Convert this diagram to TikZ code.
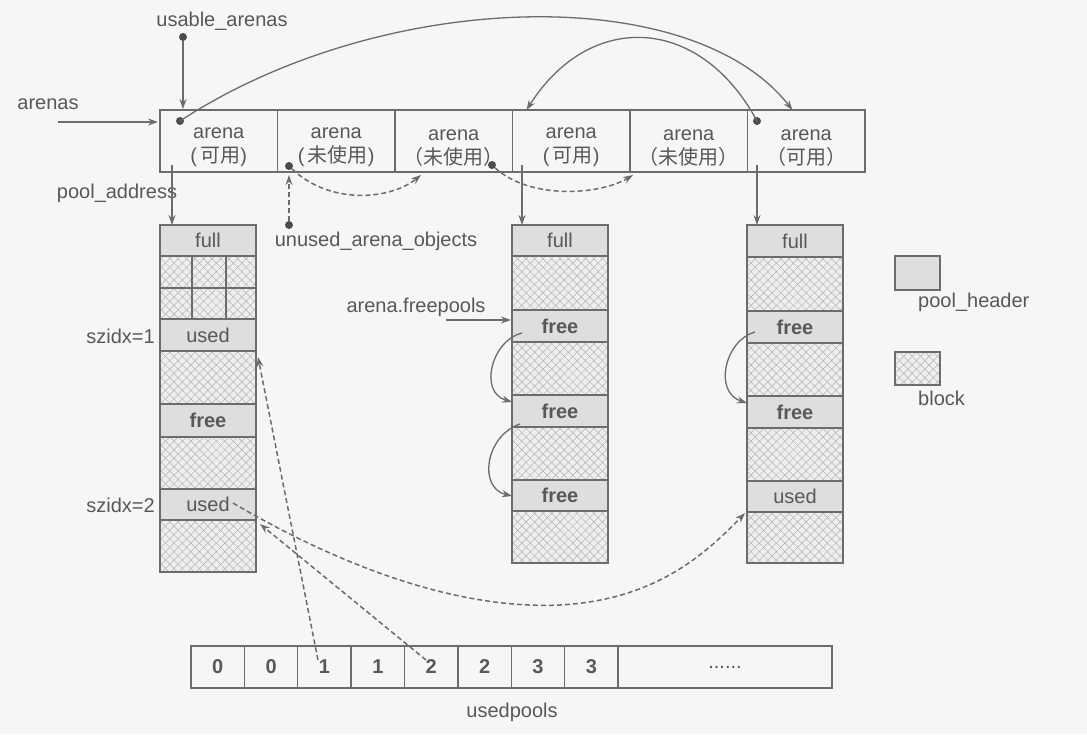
\documentclass[tikz,border=0pt]{standalone}
\usepackage{fontspec}
\setmainfont{Liberation Sans}
\newfontfamily\cjk{Noto Sans CJK SC}
\usetikzlibrary{arrows.meta,patterns.meta,calc}
\definecolor{bg}{RGB}{246,246,244}
\definecolor{lc}{RGB}{108,108,108}
\definecolor{tc}{RGB}{88,88,88}
\definecolor{hdrfill}{RGB}{222,222,222}
\definecolor{hatchbg}{RGB}{238,238,238}
\definecolor{hatchln}{RGB}{178,178,178}
\tikzset{
  cell/.style={draw=lc, line width=1.4pt, anchor=north west, inner sep=0pt, outer sep=0pt,
    text=tc, font=\fontsize{20}{22}\selectfont, minimum width=96pt},
  hdr/.style={cell, fill=hdrfill},
  hatch/.style={cell, preaction={fill=hatchbg},
    preaction={pattern={Lines[angle=45,distance=6pt,line width=0.5pt]}, pattern color=hatchln},
    preaction={pattern={Lines[angle=-45,distance=6pt,line width=0.5pt]}, pattern color=hatchln}},
  arenacell/.style={cell, minimum width=117.5pt, minimum height=62pt, align=center,
    font=\fontsize{20}{24}\selectfont},
  ucell/.style={cell, minimum width=53.375pt, minimum height=42pt, font=\bfseries\fontsize{20}{22}\selectfont},
  lbl/.style={text=tc, font=\fontsize{20}{22}\selectfont, inner sep=0pt},
  arr/.style={draw=lc, line width=1.3pt, -{Stealth[length=10pt,width=7pt]}},
  darr/.style={arr, line width=1.5pt, dash pattern=on 5pt off 3pt},
  dotn/.style={circle, fill=lc!70!black, inner sep=0pt, minimum size=8pt},
}
\newcommand{\up}{\rule{0pt}{24pt}}
\begin{document}
\begin{tikzpicture}[x=1pt,y=-1pt]
\fill[bg] (0,0) rectangle (1087,734);
\useasboundingbox (0,0) rectangle (1087,734);

% arena row
\node[arenacell] (a1) at (160,110) {\up arena\\(\,{\cjk 可用})};
\node[arenacell] (a2) at (277.5,110) {\up arena\\(\,{\cjk 未使用})};
\node[arenacell] (a3) at (395,110) {\up arena\\{\cjk （未使用）}};
\node[arenacell] (a4) at (512.5,110) {\up arena\\(\,{\cjk 可用})};
\node[arenacell] (a5) at (630,110) {\up arena\\{\cjk （未使用）}};
\node[arenacell] (a6) at (747.5,110) {\up arena\\{\cjk （可用）}};

% left column
\node[hdr, minimum height=31pt] (L1) at (160,225) {full};
\node[hatch, minimum width=32pt, minimum height=32pt] (L2a) at (160,256) {};
\node[hatch, minimum width=34pt, minimum height=32pt] (L2b) at (192,256) {};
\node[hatch, minimum width=30pt, minimum height=32pt] (L2c) at (226,256) {};
\node[hatch, minimum width=32pt, minimum height=31pt] (L3a) at (160,288) {};
\node[hatch, minimum width=34pt, minimum height=31pt] (L3b) at (192,288) {};
\node[hatch, minimum width=30pt, minimum height=31pt] (L3c) at (226,288) {};
\node[hdr, minimum height=32pt] (L4) at (160,319) {used};
\node[hatch, minimum height=53pt] (L5) at (160,351) {};
\node[hdr, minimum height=33pt] (L6) at (160,404) {\bfseries free};
\node[hatch, minimum height=52pt] (L7) at (160,437) {};
\node[hdr, minimum height=31pt] (L8) at (160,489) {used};
\node[hatch, minimum height=52pt] (L9) at (160,520) {};

% middle column
\node[hdr, minimum height=31pt] (M1) at (512,225) {full};
\node[hatch, minimum height=54pt] (M2) at (512,256) {};
\node[hdr, minimum height=32pt] (M3) at (512,310) {\bfseries free};
\node[hatch, minimum height=53pt] (M4) at (512,342) {};
\node[hdr, minimum height=32pt] (M5) at (512,395) {\bfseries free};
\node[hatch, minimum height=53pt] (M6) at (512,427) {};
\node[hdr, minimum height=31pt] (M7) at (512,480) {\bfseries free};
\node[hatch, minimum height=52pt] (M8) at (512,511) {};

% right column
\node[hdr, minimum height=32pt] (R1) at (747,225) {full};
\node[hatch, minimum height=54pt] (R2) at (747,257) {};
\node[hdr, minimum height=32pt] (R3) at (747,311) {\bfseries free};
\node[hatch, minimum height=53pt] (R4) at (747,343) {};
\node[hdr, minimum height=32pt] (R5) at (747,396) {\bfseries free};
\node[hatch, minimum height=53pt] (R6) at (747,428) {};
\node[hdr, minimum height=31pt] (R7) at (747,481) {used};
\node[hatch, minimum height=51pt] (R8) at (747,512) {};

% legend
\node[hdr, minimum width=45pt, minimum height=34pt, line width=1.1pt] (lgh) at (895,256) {};
\node[lbl, anchor=west] (lghl) at (918,302) {pool\_header};
\node[hatch, minimum width=45pt, minimum height=33pt, line width=1.1pt] (lgb) at (895,352) {};
\node[lbl, anchor=west] (lgbl) at (918,398) {block};

% usedpools array
\node[ucell] (u1) at (191,646) {0};
\node[ucell] (u2) at (244.375,646) {0};
\node[ucell] (u3) at (297.75,646) {1};
\node[ucell] (u4) at (351.125,646) {1};
\node[ucell] (u5) at (404.5,646) {2};
\node[ucell] (u6) at (457.875,646) {2};
\node[ucell] (u7) at (511.25,646) {3};
\node[ucell] (u8) at (564.625,646) {3};
\node[cell, minimum width=214pt, minimum height=42pt] (u9) at (618,646) {......};
\node[lbl] (usedpools) at (512,712) {usedpools};

% labels
\node[lbl] (usable) at (222,21) {usable\_arenas};
\node[lbl] (arenas) at (48,104) {arenas};
\node[lbl] (pooladdr) at (117,193) {pool\_address};
\node[lbl] (unused) at (376,241) {unused\_arena\_objects};
\node[lbl, anchor=east] (sz1) at (155,336) {szidx=1};
\node[lbl, anchor=east] (sz2) at (155,505) {szidx=2};
\node[lbl] (freepools) at (416,307) {arena.freepools};

% dots
\node[dotn] (du) at (183,37) {};
\node[dotn] (d1) at (180,121) {};
\node[dotn] (d6) at (757,121) {};
\node[dotn] (d2) at (289,166) {};
\node[dotn] (d3) at (492,165) {};
\node[dotn] (dun) at (289,225) {};

% coordinates
\coordinate (arenasS) at (58,122);
\coordinate (p1s) at (172,165);
\coordinate (p4s) at (522,165);
\coordinate (p6s) at (757,165);
\coordinate (fpS) at (446,320);
\coordinate (u3s) at (318,660);
\coordinate (u5s) at (426,660);
\coordinate (usedS) at (233,503);

% solid arrows
\draw[arr] (du) -- ($(a1.north west)+(23,-1)$);
\draw[arr] (arenasS) -- ($(a1.north west)+(-2,12)$);
\draw[arr] (d1.center) .. controls (380,-10) and (690,-20) .. ($(a6.north west)+(45,0)$);
\draw[arr] (d6.center) .. controls (700,15) and (590,10) .. ($(a4.north west)+(14,0)$);
\draw[arr] (p1s) -- (p1s |- L1.north);
\draw[arr] (p4s) -- (p4s |- M1.north);
\draw[arr] (p6s) -- (p6s |- R1.north);
\draw[arr] (fpS) -- ($(M3.north west)+(-1,10)$);
\draw[arr] ($(M3.south west)+(10,-9)$) .. controls (492,340) and (478,392) .. ($(M5.north west)+(0,7)$);
\draw[arr] ($(M5.south west)+(8,-3)$) .. controls (485,436) and (478,488) .. ($(M7.north west)+(0,16)$);
\draw[arr] ($(R3.south west)+(8,-11)$) .. controls (725,340) and (713,392) .. ($(R5.north west)+(0,7)$);

% dashed arrows
\draw[darr] (dun) -- ($(a2.south west)+(11.5,3)$);
\draw[darr] (d2) .. controls (330,205) and (390,200) .. ($(a3.south west)+(26,3)$);
\draw[darr] (d3) .. controls (530,200) and (600,195) .. ($(a5.south west)+(3,3)$);
\draw[darr] (u3s) -- ($(L5.north east)+(2,6)$);
\draw[darr] (u5s) -- ($(L9.north east)+(4,4)$);
\draw[darr] (usedS) .. controls (330,560) and (450,610) .. (560,605)
  .. controls (650,600) and (700,560) .. ($(R8.north west)+(-2,1)$);
\end{tikzpicture}
\end{document}
